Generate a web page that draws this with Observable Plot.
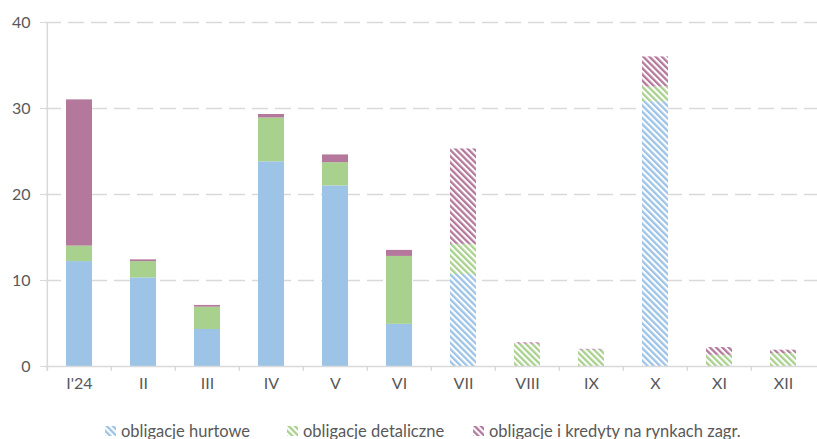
<!DOCTYPE html>
<html><head><meta charset="utf-8">
<script src="https://cdn.jsdelivr.net/npm/d3@7"></script>
<script src="https://cdn.jsdelivr.net/npm/@observablehq/plot@0.6"></script>
<style>
body{margin:0;background:#fff;font-family:Lato,"Noto Sans",sans-serif;}
#chart svg{display:block;}
#legend{position:relative;font-size:16.5px;color:#595959;height:21px;}
#legend span.item{position:absolute;top:0;display:flex;align-items:center;gap:5px;height:21px;white-space:nowrap;}
</style></head><body><div id="chart"></div><div id="legend"></div><script>
const months = ["I'24","II","III","IV","V","VI","VII","VIII","IX","X","XI","XII"];
const hurtowe = [12.2,10.3,4.3,23.8,21.0,4.9,10.7,0,0,30.8,0,0];
const detaliczne = [1.8,1.9,2.6,5.1,2.7,7.9,3.5,2.6,1.9,1.7,1.3,1.5];
const zagraniczne = [17.0,0.2,0.2,0.4,0.9,0.7,11.1,0.15,0.1,3.5,0.9,0.4];
const hatchedMonths = ["VII","VIII","IX","X","XI","XII"];
const seriesNames = ["obligacje hurtowe","obligacje detaliczne","obligacje i kredyty na rynkach zagr."];
const seriesValues = [hurtowe, detaliczne, zagraniczne];
const colors = ["#9dc3e6","#a9d18e","#b3789b"];
const yTicks = [0,10,20,30,40];
const legendLeft = [105, 287, 473];

const data = [];
months.forEach((m, i) => {
  seriesValues.forEach((vals, s) => {
    const hatched = hatchedMonths.includes(m);
    data.push({month: m, value: vals[i], series: s,
      fill: hatched ? `url(#hatch${s})` : colors[s]});
  });
});

const W = 817, H = 420;
const step = (W - 45) / 12;
const chart = Plot.plot({
  width: W, height: H,
  marginLeft: 45, marginRight: 0, marginTop: 22, marginBottom: H - 366,
  style: {fontFamily: "Lato, 'Noto Sans', sans-serif", fontSize: "16px", color: "#595959", background: "#fff"},
  x: {domain: months, paddingInner: 0.6, paddingOuter: 0.3, label: null},
  y: {domain: [0, 40], ticks: yTicks, label: null},
  color: {type: "identity"},
  marks: [
    Plot.gridY(yTicks.filter(t => t > 0), {stroke: "#d9d9d9", strokeOpacity: 1, strokeWidth: 1.5, strokeDasharray: "16,7"}),
    Plot.barY(data, Plot.stackY({x: "month", y: "value", fill: "fill", order: "series"})),
    Plot.ruleX(months, {x: d => d, dx: -step / 2, y1: 0, y2: -0.55, stroke: "#d9d9d9", strokeWidth: 1.5}),
    Plot.ruleX(months.slice(0,1), {x: d => d, dx: -step / 2, y1: -0.55, y2: 40, stroke: "#d9d9d9", strokeWidth: 1.5}),
    Plot.ruleY([0], {stroke: "#d9d9d9", strokeWidth: 1.5}),
    Plot.axisY({ticks: yTicks, tickSize: 5, tickPadding: 10, stroke: "#d9d9d9", fill: "#595959", label: null}),
    Plot.axisX({tickSize: 0, tickPadding: 11, fill: "#595959", label: null})
  ]
});

// hatch patterns
const ns = "http://www.w3.org/2000/svg";
const defs = document.createElementNS(ns, "defs");
colors.forEach((c, s) => {
  const p = document.createElementNS(ns, "pattern");
  p.setAttribute("id", `hatch${s}`);
  p.setAttribute("patternUnits", "userSpaceOnUse");
  p.setAttribute("width", "4.4");
  p.setAttribute("height", "4.4");
  p.setAttribute("patternTransform", "rotate(-45)");
  const r0 = document.createElementNS(ns, "rect");
  r0.setAttribute("width", "4.4"); r0.setAttribute("height", "4.4"); r0.setAttribute("fill", "#fff");
  const r1 = document.createElementNS(ns, "rect");
  r1.setAttribute("width", "2.3"); r1.setAttribute("height", "4.4"); r1.setAttribute("fill", c);
  p.appendChild(r0); p.appendChild(r1);
  defs.appendChild(p);
});
chart.insertBefore(defs, chart.firstChild);
document.getElementById("chart").appendChild(chart);

// legend
const legend = document.getElementById("legend");
seriesNames.forEach((name, s) => {
  const item = document.createElement("span");
  item.className = "item";
  item.style.left = legendLeft[s] + "px";
  item.innerHTML = `<svg width="11" height="10" viewBox="0 0 11 10"><rect width="11" height="10" fill="url(#hatch${s})"/></svg><span>${name}</span>`;
  legend.appendChild(item);
});
</script></body></html>
